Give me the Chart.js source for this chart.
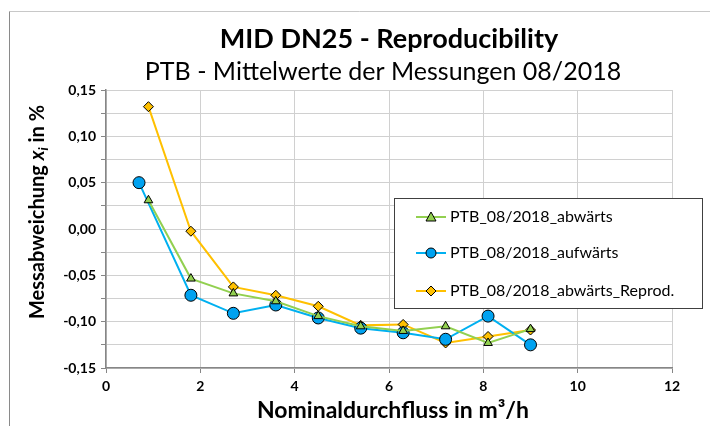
<!DOCTYPE html>
<html>
<head>
<meta charset="utf-8">
<script src="https://cdn.jsdelivr.net/npm/chart.js@4/dist/chart.umd.min.js"></script>
<style>
html,body{margin:0;padding:0;background:#fff;}
#wrap{width:710px;height:426px;position:relative;}
</style>
</head>
<body>
<div id="wrap"><canvas id="c" width="710" height="426"></canvas></div>
<script>
const title = "MID DN25 - Reproducibility";
const subtitle = "PTB - Mittelwerte der Messungen 08/2018";
const xTitle = "Nominaldurchfluss in m³/h";
const seriesNames = ["PTB_08/2018_abwärts", "PTB_08/2018_aufwärts", "PTB_08/2018_abwärts_Reprod."];

const xAbw = [0.9, 1.8, 2.7, 3.6, 4.5, 5.4, 6.3, 7.2, 8.1, 9.0];
const yAbw = [0.031, -0.0535, -0.0695, -0.078, -0.094, -0.105, -0.110, -0.105, -0.123, -0.108];

const xAuf = [0.7, 1.8, 2.7, 3.6, 4.5, 5.4, 6.3, 7.2, 8.1, 9.0];
const yAuf = [0.050, -0.0715, -0.091, -0.082, -0.096, -0.107, -0.112, -0.119, -0.094, -0.125];

const xRep = [0.9, 1.8, 2.7, 3.6, 4.5, 5.4, 6.3, 7.2, 8.1, 9.0];
const yRep = [0.132, -0.0024, -0.0625, -0.0715, -0.0834, -0.104, -0.103, -0.123, -0.116, -0.109];

const colors = ["#92D050", "#00B0F0", "#FFC000"];
const shapes = ["triangle", "circle", "rectRot"];
const radii = [5, 6, 5];

function pts(xs, ys){ return xs.map((x,i)=>({x:x, y:ys[i]})); }

const FONT = "Lato, 'Open Sans', sans-serif";

const decor = {
  id: 'decor',
  beforeDraw(chart){
    const ctx = chart.ctx;
    ctx.save();
    ctx.fillStyle = '#fff';
    ctx.fillRect(0,0,chart.width,chart.height);
    ctx.strokeStyle = '#c8c8c8';
    ctx.lineWidth = 1;
    ctx.beginPath();
    ctx.moveTo(9.5, 11.5); ctx.lineTo(710, 11.5);
    ctx.stroke();
    ctx.strokeStyle = '#8a8a8a';
    ctx.beginPath();
    ctx.moveTo(9.5, 426); ctx.lineTo(9.5, 11.5);
    ctx.stroke();
    ctx.restore();
  },
  afterDraw(chart){
    const ctx = chart.ctx;
    ctx.save();
    ctx.fillStyle = '#000';
    ctx.textAlign = 'center';
    ctx.textBaseline = 'middle';
    ctx.font = "bold 27px " + FONT;
    ctx.fillText(title, 389, 39);
    ctx.font = "25px " + FONT;
    ctx.fillText(subtitle, 383, 72);
    ctx.font = "bold 23px " + FONT;
    ctx.fillText(xTitle, 393, 411);

    // y axis title with italic subscript
    ctx.translate(37, 212);
    ctx.rotate(-Math.PI/2);
    const p1 = "Messabweichung ", p2 = "x", p3 = "i", p4 = " in %";
    ctx.font = "bold 20px " + FONT;
    const w1 = ctx.measureText(p1).width;
    ctx.font = "italic bold 20px " + FONT;
    const w2 = ctx.measureText(p2).width;
    ctx.font = "italic bold 13px " + FONT;
    const w3 = ctx.measureText(p3).width;
    ctx.font = "bold 20px " + FONT;
    const w4 = ctx.measureText(p4).width;
    let x = -(w1+w2+w3+w4)/2;
    ctx.textAlign = 'left';
    ctx.textBaseline = 'alphabetic';
    ctx.font = "bold 20px " + FONT; ctx.fillText(p1, x, 7); x += w1;
    ctx.font = "italic bold 20px " + FONT; ctx.fillText(p2, x, 7); x += w2;
    ctx.font = "italic bold 13px " + FONT; ctx.fillText(p3, x, 11); x += w3;
    ctx.font = "bold 20px " + FONT; ctx.fillText(p4, x, 7);
    ctx.restore();

    // legend
    ctx.save();
    const bx = 394.5, by = 198.5, bw = 308, bh = 110;
    ctx.fillStyle = '#fff';
    ctx.fillRect(bx, by, bw, bh);
    ctx.strokeStyle = '#404040';
    ctx.lineWidth = 1;
    ctx.strokeRect(bx, by, bw, bh);
    const rows = [217, 253, 291];
    chart.data.datasets.forEach((ds, i) => {
      const yy = rows[i];
      ctx.strokeStyle = ds.borderColor;
      ctx.lineWidth = 2;
      ctx.beginPath(); ctx.moveTo(416, yy); ctx.lineTo(446, yy); ctx.stroke();
      ctx.fillStyle = ds.pointBackgroundColor;
      ctx.strokeStyle = '#000';
      ctx.lineWidth = 1;
      ctx.beginPath();
      const r = 5;
      if (ds.pointStyle === 'circle') { ctx.arc(431, yy, r, 0, Math.PI*2); }
      else if (ds.pointStyle === 'triangle') { ctx.moveTo(431, yy - r); ctx.lineTo(431 + r, yy + r*0.8); ctx.lineTo(431 - r, yy + r*0.8); ctx.closePath(); }
      else { ctx.moveTo(431, yy - r); ctx.lineTo(431 + r, yy); ctx.lineTo(431, yy + r); ctx.lineTo(431 - r, yy); ctx.closePath(); }
      ctx.fill(); ctx.stroke();
      ctx.fillStyle = '#000';
      ctx.font = "16px " + FONT;
      ctx.textAlign = 'left';
      ctx.textBaseline = 'middle';
      ctx.fillText(ds.label, 450, yy);
    });
    ctx.restore();
  }
};

const ds = [
  {label: seriesNames[0], data: pts(xAbw, yAbw)},
  {label: seriesNames[1], data: pts(xAuf, yAuf)},
  {label: seriesNames[2], data: pts(xRep, yRep)}
].map((d, i) => Object.assign(d, {
  showLine: true,
  borderColor: colors[i],
  backgroundColor: colors[i],
  borderWidth: 2,
  pointStyle: shapes[i],
  pointRadius: radii[i],
  pointBackgroundColor: i === 1 ? '#00A2F0' : colors[i],
  pointBorderColor: '#000',
  pointBorderWidth: 1,
  tension: 0
}));

new Chart(document.getElementById('c'), {
  type: 'scatter',
  data: {datasets: ds},
  options: {
    responsive: false,
    animation: false,
    events: [],
    layout: {padding: {top: 90, right: 38, bottom: 0, left: 0}},
    plugins: {legend: {display: false}, title: {display: false}, tooltip: {enabled: false}},
    scales: {
      x: {
        type: 'linear', min: 0, max: 12,
        afterFit(s){ s.height = 426 - 368; },
        ticks: {stepSize: 2, color: '#000', font: {family: FONT, size: 14, weight: 'bold'}, padding: 5, maxRotation: 0},
        grid: {color: '#d0d0d0', lineWidth: 1, tickLength: 5, tickColor: '#868686'},
        border: {color: '#868686', width: 1.5}
      },
      y: {
        type: 'linear', min: -0.15, max: 0.15,
        afterFit(s){ s.width = 106; },
        ticks: {
          stepSize: 0.025, color: '#000', font: {family: FONT, size: 14, weight: 'bold'}, padding: 5,
          callback(v){ const r = Math.round(v*1000); if (r % 50 !== 0) return ''; return (v).toFixed(2).replace('.', ','); }
        },
        grid: {color: '#d0d0d0', lineWidth: 1, tickLength: 5, tickColor: '#868686'},
        border: {color: '#868686', width: 1.5}
      }
    }
  },
  plugins: [decor]
});
</script>
</body>
</html>
